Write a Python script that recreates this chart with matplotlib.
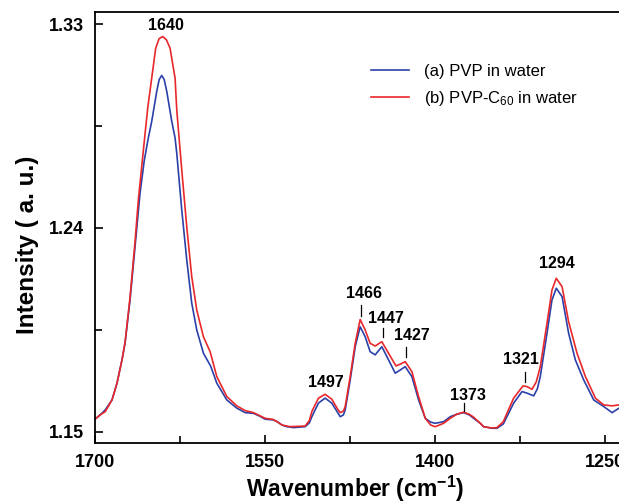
import matplotlib
matplotlib.use("Agg")
import matplotlib.pyplot as plt

plt.rcParams['font.family'] = ['Liberation Sans', 'DejaVu Sans']
plt.rcParams['mathtext.fontset'] = 'custom'
plt.rcParams['mathtext.rm'] = 'Liberation Sans'
plt.rcParams['mathtext.bf'] = 'Liberation Sans:bold'
plt.rcParams['mathtext.default'] = 'regular'

# spectrum (a): PVP in water
wn_a = [1700, 1694, 1691, 1685, 1680.6, 1676.2, 1673.5, 1669.1, 1664.7, 1660.3,
        1656.5, 1653, 1650, 1645.6, 1643.4, 1641.2, 1639, 1636.7, 1632.3, 1629.4,
        1627.9, 1623.5, 1619.1, 1614.7, 1610.3, 1604.4, 1598, 1592.6, 1583.8, 1575,
        1567.6, 1560.3, 1555, 1550, 1543, 1539.7, 1535, 1530.9, 1525, 1514.7,
        1511, 1508.8, 1503, 1497.1, 1491.2, 1486, 1483.8, 1481, 1479.4, 1475,
        1470.6, 1466.2, 1461.8, 1457.4, 1453, 1447.1, 1441.2, 1435.3, 1430.9, 1426.5,
        1420.6, 1414.7, 1408.8, 1404, 1400, 1392.6, 1386.8, 1381, 1375, 1370,
        1366.2, 1360.3, 1357.4, 1350, 1345.6, 1340, 1336.8, 1330.9, 1323.5, 1319.1,
        1313.2, 1310, 1307.4, 1301.5, 1297.1, 1293.3, 1288.2, 1282.4, 1276.5, 1269.1,
        1260.3, 1251.5, 1244.1, 1238.2]
int_a = [1.1556, 1.1582, 1.1597, 1.1641, 1.1715, 1.1818, 1.1891, 1.2082, 1.2317, 1.2553,
         1.2700, 1.2797, 1.2870, 1.3002, 1.3055, 1.3073, 1.3055, 1.3002, 1.2870, 1.2797,
         1.2729, 1.2479, 1.2259, 1.2068, 1.1950, 1.1847, 1.1790, 1.1715, 1.1641, 1.1605,
         1.1585, 1.1582, 1.1570, 1.1556, 1.1553, 1.1546, 1.1530, 1.1523, 1.1519, 1.1523,
         1.1540, 1.1567, 1.1627, 1.1649, 1.1627, 1.1585, 1.1567, 1.1575, 1.1597, 1.1729,
         1.1876, 1.1964, 1.1920, 1.1854, 1.1840, 1.1876, 1.1818, 1.1759, 1.1773, 1.1788,
         1.1744, 1.1641, 1.1560, 1.1543, 1.1538, 1.1545, 1.1567, 1.1578, 1.1585, 1.1575,
         1.1560, 1.1538, 1.1523, 1.1516, 1.1516, 1.1535, 1.1567, 1.1627, 1.1678, 1.1671,
         1.1659, 1.1690, 1.1744, 1.1935, 1.2082, 1.2134, 1.2097, 1.1935, 1.1818, 1.1729,
         1.1641, 1.1612, 1.1585, 1.1604]

# spectrum (b): PVP-C60 in water
wn_b = [1700, 1694, 1691, 1685, 1680.6, 1676.2, 1673.5, 1669.1, 1664.7, 1661.8,
        1657, 1653.5, 1650, 1646.5, 1643.5, 1640.3, 1637, 1633.8, 1629.4, 1627.9,
        1623.5, 1619.1, 1614.7, 1610.3, 1604.4, 1598.5, 1592.6, 1583.8, 1575, 1567.6,
        1560.3, 1550, 1543, 1539.7, 1535, 1527.9, 1514.7, 1511, 1508.8, 1503,
        1497.1, 1491.2, 1486, 1483.8, 1481, 1479.4, 1475, 1470.6, 1466.2, 1461.8,
        1457.4, 1453, 1447.1, 1441.2, 1434.6, 1430.5, 1426.5, 1420.6, 1414.7, 1408.8,
        1404, 1400, 1392.6, 1386.8, 1381, 1375, 1370, 1366.2, 1360.3, 1357.4,
        1350, 1345.6, 1340, 1336.8, 1330.9, 1322.6, 1319.1, 1314.7, 1311, 1307.4,
        1301.5, 1297.1, 1293.3, 1288.2, 1282.4, 1275, 1267.6, 1258.8, 1251.5, 1244.1,
        1238.2]
int_b = [1.1556, 1.1580, 1.1589, 1.1641, 1.1715, 1.1818, 1.1895, 1.2095, 1.2340, 1.2523,
         1.2760, 1.2930, 1.3061, 1.3193, 1.3235, 1.3245, 1.3230, 1.3193, 1.3061, 1.2920,
         1.2655, 1.2405, 1.2185, 1.2038, 1.1920, 1.1854, 1.1744, 1.1656, 1.1615, 1.1594,
         1.1585, 1.1560, 1.1555, 1.1546, 1.1530, 1.1523, 1.1526, 1.1550, 1.1590, 1.1649,
         1.1666, 1.1644, 1.1600, 1.1585, 1.1592, 1.1612, 1.1744, 1.1891, 1.1996, 1.1950,
         1.1891, 1.1879, 1.1898, 1.1847, 1.1791, 1.1800, 1.1810, 1.1766, 1.1656, 1.1560,
         1.1530, 1.1523, 1.1538, 1.1560, 1.1578, 1.1587, 1.1578, 1.1565, 1.1538, 1.1523,
         1.1517, 1.1519, 1.1545, 1.1582, 1.1649, 1.1703, 1.1700, 1.1688, 1.1720, 1.1788,
         1.1979, 1.2126, 1.2178, 1.2141, 1.1986, 1.1847, 1.1744, 1.1649, 1.1619, 1.1615,
         1.1619]

x_ticks = [1700, 1550, 1400, 1250]
x_minor = [1625, 1475, 1325]
y_ticks = [1.15, 1.24, 1.33]
y_minor = [1.195, 1.285]

# peak labels: text, label position, and short marker line (None = no marker)
peak_text = ['1640', '1497', '1466', '1447', '1427', '1373', '1321', '1294']
peak_lx = [1637.6, 1496.4, 1462.6, 1443.8, 1420.9, 1371.5, 1324.4, 1292.6]
peak_ly = [1.3295, 1.1717, 1.2112, 1.2001, 1.1925, 1.1662, 1.1818, 1.2244]
mark_x = [None, None, 1465.6, 1446.5, 1426.2, 1375.0, 1321.2, None]
mark_y0 = [None, None, 1.2012, 1.1919, 1.1831, 1.1593, 1.1721, None]
mark_y1 = [None, None, 1.2060, 1.1959, 1.1875, 1.1628, 1.1765, None]

blue = '#2b40a8'
red = '#e8282a'

fig = plt.figure(figsize=(6.19, 5.03), dpi=100)
ax = fig.add_axes([95 / 619, 60 / 503, 524 / 619, 431 / 503])

ax.plot(wn_a, int_a, color=blue, lw=1.2, label='(a) PVP in water')
ax.plot(wn_b, int_b, color=red, lw=1.2, label='(b) PVP-C$_{60}$ in water')

for t, lx, ly, mx, y0, y1 in zip(peak_text, peak_lx, peak_ly, mark_x, mark_y0, mark_y1):
    ax.text(lx, ly, t, ha='center', va='center', fontsize=11.5, fontweight='bold')
    if mx is not None:
        ax.plot([mx, mx], [y0, y1], color='black', lw=0.9)

ax.set_xlim(1700, 1238)
ax.set_ylim(1.1451, 1.3353)
ax.set_xticks(x_ticks)
ax.set_xticks(x_minor, minor=True)
ax.set_xticklabels([str(v) for v in x_ticks])
ax.set_yticks(y_ticks)
ax.set_yticks(y_minor, minor=True)
ax.set_yticklabels(['%.2f' % v for v in y_ticks])
ax.tick_params(which='both', direction='in', width=1.2)
ax.tick_params(which='major', length=6, labelsize=13, pad=8)
ax.tick_params(which='minor', length=5)
for lab in ax.get_xticklabels() + ax.get_yticklabels():
    lab.set_fontweight('bold')
for s in ['left', 'bottom', 'top']:
    ax.spines[s].set_linewidth(1.3)
ax.spines['right'].set_visible(False)

ax.set_xlabel('Wavenumber (cm$^{\\mathbf{-1}}$)', fontsize=16.5, fontweight='bold')
ax.set_ylabel('Intensity ( a. u.)', fontsize=17.5, fontweight='bold')
ax.xaxis.set_label_coords(0.496, -0.072)
ax.yaxis.set_label_coords(-0.106, 0.46)

ax.legend(loc='upper left', bbox_to_anchor=(371 / 619, 1 - 64 / 503),
          bbox_transform=fig.transFigure, frameon=False, fontsize=12,
          handlelength=2.3, handletextpad=0.9, borderpad=0, borderaxespad=0,
          labelspacing=0.57)

fig.savefig('out.png', dpi=100)
